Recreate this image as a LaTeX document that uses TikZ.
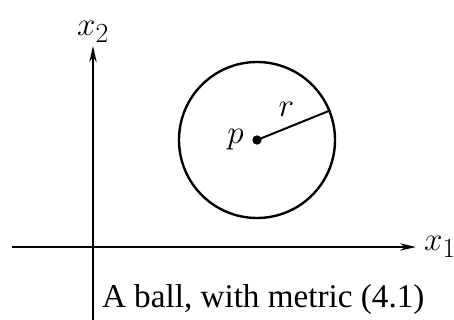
\documentclass[tikz,border=0pt]{standalone}
\usepackage{fontspec}
\setmainfont{Liberation Serif}
\usetikzlibrary{arrows.meta}
\begin{document}
\begin{tikzpicture}[x=0.75pt, y=-0.75pt, >={Stealth[length=12pt,width=5.5pt]}, line width=1.5pt, every node/.style={font=\Huge}]
				\useasboundingbox (0,0) rectangle (454,320);
				% axes
				\coordinate (O) at (93,247);
				\coordinate (xL) at (12,247);
				\coordinate (xR) at (416,247);
				\coordinate (yT) at (93,46);
				\coordinate (yB) at (93,320);
				
				\draw[->] (xL) -- (xR) node[right, xshift=2pt] (xlab) {$x_1$};
				\draw[->] (yB) -- (yT) node[above, inner sep=2pt] (ylab) {$x_2$};
				
				% ball
				\coordinate (P) at (257,140);
				\node[draw, circle, line width=1.8pt, minimum size=117pt, inner sep=0pt] (ball) at (P) {};
				\draw[line width=1.5pt] (P) -- (ball.22) node[pos=0.4, above, yshift=5pt] (rlab) {$r$};
				\fill (P) circle (3.5pt);
				\node[left, xshift=-6pt] (plab) at (P) {$p$};
				
				\node[right, inner sep=0pt] (caption) at (101,300) {A ball, with metric (4.1)};
			\end{tikzpicture}
\end{document}
